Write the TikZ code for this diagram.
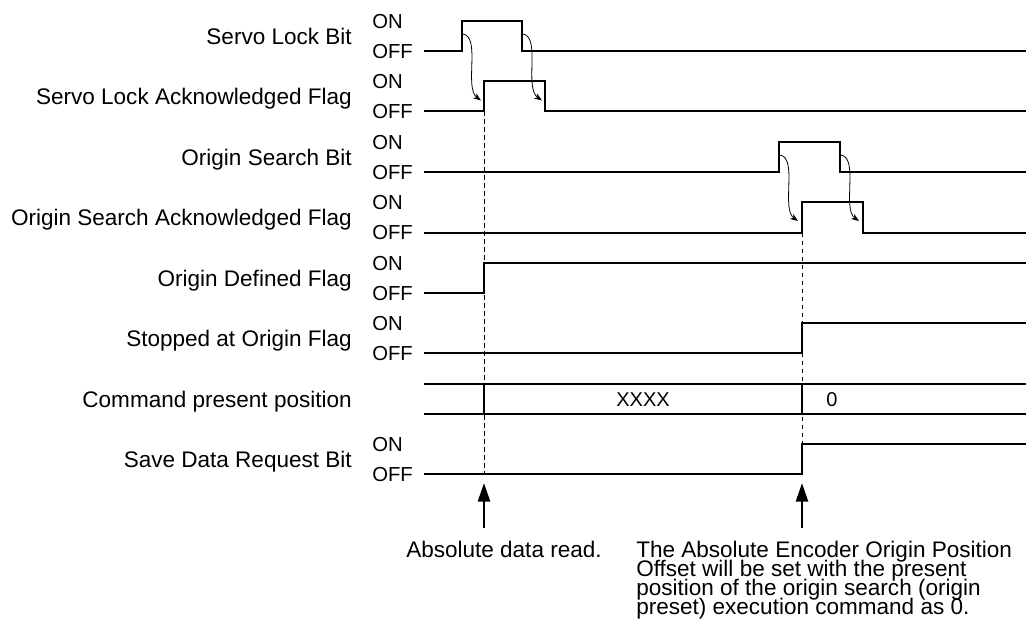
\documentclass[tikz,border=0pt]{standalone}
\usepackage{fontspec}
\setmainfont{Liberation Sans}
\usetikzlibrary{arrows.meta}

\newcommand{\notefont}{\fontsize{16.9}{14.2}\selectfont\lineskiplimit -20pt\relax}

\begin{document}
\begin{tikzpicture}[x=0.75pt,y=-0.75pt,
  sig/.style={line width=1.5pt},
  guide/.style={line width=0.6pt, dash pattern=on 3.5pt off 2.5pt},
  cause/.style={line width=0.6pt, -{Stealth[length=6pt,width=4.5pt]}},
  readout/.style={line width=2pt, -{Triangle[length=14pt,width=9pt]}},
  rowlbl/.style={anchor=base east, inner sep=0pt, font=\fontsize{16.9}{18}\selectfont},
  lvl/.style={anchor=base west, inner sep=0pt, font=\fontsize{15.2}{16}\selectfont},
  note/.style={anchor=base west, inner sep=0pt, align=left, font=\notefont}]
\useasboundingbox (0,0) rectangle (1026,632);

% row names and ON/OFF levels
\foreach \ly/\txt [count=\i] in {51/Servo Lock Bit, 111.4/Servo Lock Acknowledged Flag,
    172/Origin Search Bit, 232.5/Origin Search Acknowledged Flag,
    293/Origin Defined Flag, 353/Stopped at Origin Flag, 474/Save Data Request Bit}
{
  \node[rowlbl] (name\i) at (352,\ly-7) {\txt};
  \node[lvl] (on\i) at (372,\ly-22.8) {ON};
  \node[lvl] (off\i) at (372,\ly+7.2) {OFF};
}
\node[rowlbl] (namecmd) at (352,407) {Command present position};

% edges
\coordinate (lock up) at (462,21);
\coordinate (lock dn) at (522,21);
\coordinate (lack up) at (484,111.4);
\coordinate (lack dn) at (545,111.4);
\coordinate (srch up) at (779,142);
\coordinate (srch dn) at (840,142);
\coordinate (sack up) at (802,232.5);
\coordinate (sack dn) at (863,232.5);

% signals
\draw[sig] (424,51) -- (462,51) -- (lock up) -- (lock dn) -- (522,51) -- (1026,51);
\draw[sig] (424,111.4) -- (lack up) -- (484,81) -- (545,81) -- (lack dn) -- (1026,111.4);
\draw[sig] (424,172) -- (779,172) -- (srch up) -- (srch dn) -- (840,172) -- (1026,172);
\draw[sig] (424,232.5) -- (sack up) -- (802,202) -- (863,202) -- (sack dn) -- (1026,232.5);
\draw[sig] (424,293) -- (484,293) -- (484,263) -- (1026,263);
\draw[sig] (424,353) -- (802,353) -- (802,323) -- (1026,323);
\draw[sig] (424,474) -- (802,474) -- (802,444) -- (1026,444);

% command present position
\draw[sig] (424,384) -- (1026,384);
\draw[sig] (424,414) -- (1026,414);
\draw[sig] (484,384) -- (484,414);
\draw[sig] (802,384) -- (802,414);
\node[font=\fontsize{15}{16}\selectfont] (xval) at (643,400) {XXXX};
\node[font=\fontsize{15}{16}\selectfont] (zval) at (832,400) {0};

% cause -> effect
\draw[cause] (463,34) .. controls (481,37) and (464,88) .. (481,100.5);
\draw[cause] (523,34) .. controls (541,37) and (524,88) .. (542,100.5);
\draw[cause] (780,155) .. controls (798,158) and (781,209) .. (798,221);
\draw[cause] (841,155) .. controls (859,158) and (842,209) .. (859,221);

% timing guides
\coordinate (read) at (484,528);
\coordinate (preset) at (802,528);
\draw[guide] (lack up) -- (484,474);
\draw[guide] (sack up) -- (802,474);
\draw[readout] (read) -- (484,483);
\draw[readout] (preset) -- (802,483);

\node[note] (readtxt) at (406,557) {Absolute data read.};
\node[note] (presettxt) at (636,614) {The Absolute Encoder Origin Position\\
  Offset will be set with the present\\
  position of the origin search (origin\\
  preset) execution command as 0.};
\end{tikzpicture}
\end{document}
